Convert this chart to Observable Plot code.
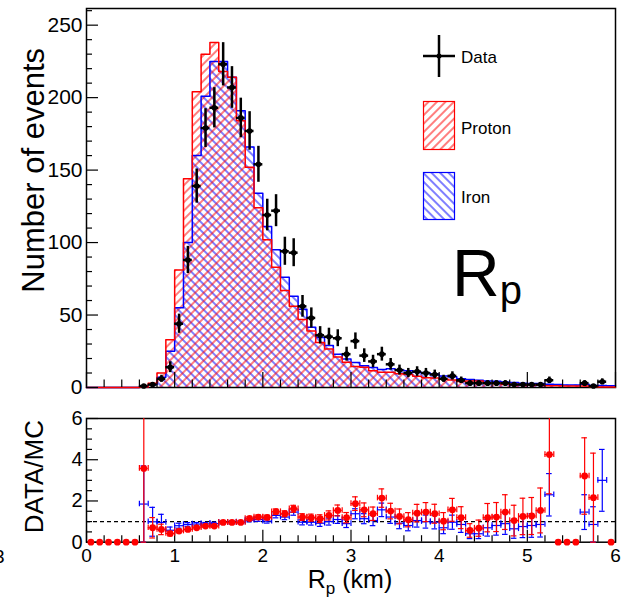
<!DOCTYPE html>
<html><head><meta charset="utf-8">
<script src="https://cdn.jsdelivr.net/npm/d3@7"></script>
<script src="https://cdn.jsdelivr.net/npm/@observablehq/plot@0.6"></script>
<style>
body{margin:0;background:#fff;}
#wrap{position:relative;width:621px;height:601px;overflow:hidden;background:#fff;font-family:"Liberation Sans",Arial,Helvetica,sans-serif;}
#top,#bot{position:absolute;left:0;}
#top{top:0px} #bot{top:395px}
#ov{position:absolute;left:0;top:0;pointer-events:none;}
</style></head><body>
<div id="wrap">
<div id="top"></div><div id="bot"></div>
<svg id="ov" width="621" height="601" font-family="Liberation Sans, Arial, Helvetica, sans-serif">
  <defs>
    <pattern id="hatchP" patternUnits="userSpaceOnUse" width="6" height="6" patternTransform="rotate(45)">
      <line x1="3" y1="-1" x2="3" y2="7" stroke="#ff0000" stroke-width="1"/>
    </pattern>
    <pattern id="hatchFe" patternUnits="userSpaceOnUse" width="6" height="6" patternTransform="rotate(-45)">
      <line x1="3" y1="-1" x2="3" y2="7" stroke="#0000ff" stroke-width="1"/>
    </pattern>
  </defs>
  <!-- legend -->
  <line x1="423" y1="56" x2="455" y2="56" stroke="#000" stroke-width="2.5"/>
  <line x1="439" y1="35" x2="439" y2="77" stroke="#000" stroke-width="2.5"/>
  <circle cx="439" cy="56" r="2.5" fill="#000"/>
  <text x="461" y="63" font-size="17">Data</text>
  <rect x="423.5" y="101.5" width="31" height="48" fill="url(#hatchP)" stroke="#ff0000" stroke-width="1.2"/>
  <text x="461" y="134" font-size="17">Proton</text>
  <rect x="423.5" y="172.5" width="31" height="47" fill="url(#hatchFe)" stroke="#0000ff" stroke-width="1.2"/>
  <text x="461" y="203" font-size="17">Iron</text>
  <!-- big label -->
  <text x="452" y="296" font-size="66">R<tspan font-size="40" dy="8">p</tspan></text>
  <!-- axis titles -->
  <text transform="translate(44,48) rotate(-90)" text-anchor="end" font-size="31">Number of events</text>
  <text transform="translate(43,420) rotate(-90)" text-anchor="end" font-size="26">DATA/MC</text>
  <text x="350" y="588" text-anchor="middle" font-size="25">R<tspan font-size="17" dy="6">p</tspan><tspan dy="-6"> (km)</tspan></text>
  <text x="-6" y="563" font-size="19">3</text>
</svg>
</div>
<script>
// ---- data (bins of 0.1 km from 0 to 6 km) ----
const BIN_WIDTH = 0.1;
const binEdges = d3.range(60).map(i => +(i * BIN_WIDTH).toFixed(1));

const dataCounts = [0,0,0,0,0,0, 1,2,6,14,
  44,88,139,179,193,223,207,186,177,154,
  119,122,94,93,56,48,36,35,34,23,
  32,22,18,23,16,12,10,11,10,9,
  6,8,5,3,3,3,3,3,2,2,
  2,2,5,0,0,0,3,1,4,0];

const protonMC = [0,0,0,0,0,0, 0.3,3,10,33,
  81,144,204,230,238,218,214,184,152,124,
  102,83,67,56,47,39,31,26.5,21,17.5,
  14.5,14,11.5,10.5,10.5,9.5,9,7.8,6.8,6.5,
  5.9,5.1,4.2,4.5,4.4,3,2.9,2.2,2.2,1.8,
  1.8,1.5,1.2,1.2,1.1,1,1.1,0.55,0.4,0.3];

const ironMC = [0,0,0,0,0,0, 0.5,2,7,25,
  55,100,160,201,225,225,214,191,166,134,
  111,95,76,63,54,41.5,34.5,29,23,19.6,
  17.3,15,13.8,12.5,13,12,11.5,10.5,10,9.3,
  8,7.5,6,5.5,5,4.5,4.3,3.8,3.5,3,
  2.8,2.7,2.2,2,1.8,1.8,2.2,1.4,1.3,1.2];

const ratioProton = [0,0,0,0,0,0, 3.58,0.7,0.62,0.42,
  0.54,0.62,0.7,0.78,0.78,0.96,0.96,0.96,1.15,1.22,
  1.2,1.48,1.38,1.62,1.22,1.19,1.14,1.3,1.54,1.19,
  1.87,1.57,1.38,2.14,1.51,1.25,1.09,1.41,1.46,1.38,
  1.02,1.57,1.19,0.57,0.68,1.19,1.22,1.46,1.05,1.25,
  1.27,1.54,4.25,0,0,0,3.21,2.16,null,0];

const ratioIron = [null,null,null,null,null,null, 1.85,0.99,0.96,0.58,
  0.8,0.86,0.88,0.89,0.9,0.96,0.96,0.98,1.07,1.1,
  1.02,1.3,1.22,1.46,0.97,0.97,0.92,1.0,1.1,0.9,
  1.38,1.14,1.05,1.57,1.22,0.92,0.81,1.05,1.0,0.97,
  0.7,0.97,0.86,0.41,0.41,0.7,0.81,0.9,0.65,0.76,
  0.81,0.86,2.3,null,null,null,1.46,0.86,3.0,null];

const yTicksTop = [0, 50, 100, 150, 200, 250];
const yTicksBot = [0, 2, 4, 6];
const xTicks = [0, 1, 2, 3, 4, 5, 6];

// ---- derived tables ----
const bins = binEdges.map((x0, i) => ({
  x0, x1: +(x0 + BIN_WIDTH).toFixed(1), xc: x0 + BIN_WIDTH / 2,
  n: dataCounts[i], p: protonMC[i], fe: ironMC[i], rp: ratioProton[i], rfe: ratioIron[i]
}));
const last = bins[bins.length - 1];
const steps = [...bins.map(b => ({x: b.x0, p: b.p, fe: b.fe})), {x: last.x1, p: last.p, fe: last.fe}];
const dataPts = bins.filter(b => b.n > 0).map(b => ({...b, e: Math.sqrt(b.n)}));
const rpPts = bins.filter(b => b.rp != null).map(b => ({...b, r: b.rp, e: b.n > 0 ? b.rp / Math.sqrt(b.n) : 0}));
const rfePts = bins.filter(b => b.rfe != null).map(b => ({...b, r: b.rfe, e: b.n > 0 ? b.rfe / Math.sqrt(b.n) : 0}));

const font = "Liberation Sans, Arial, Helvetica, sans-serif";
const minorX = d3.range(0, 31).map(i => +(i * 0.2).toFixed(1)).filter(v => !xTicks.includes(v));

// ---- top panel ----
const TOP = {w: 621, h: 395, ml: 86, mr: 6, mt: 8, mb: 8, ymax: 261.5};
const topPxY = (TOP.h - TOP.mt - TOP.mb) / TOP.ymax; // px per event
const pxX = (621 - 86 - 6) / 6; // px per km
const minorYTop = d3.range(0, 261, 10).filter(v => v % 50 !== 0);

const topPlot = Plot.plot({
  width: TOP.w, height: TOP.h,
  marginLeft: TOP.ml, marginRight: TOP.mr, marginTop: TOP.mt, marginBottom: TOP.mb,
  x: {domain: [0, 6], axis: null},
  y: {domain: [0, TOP.ymax], axis: null},
  style: {fontFamily: font, fontSize: "21px", color: "black", background: "transparent", overflow: "visible"},
  marks: [
    Plot.frame({stroke: "black", strokeWidth: 1.5}),
    Plot.areaY(steps, {x: "x", y: "fe", curve: "step-after", fill: "url(#hatchFe)"}),
    Plot.areaY(steps, {x: "x", y: "p", curve: "step-after", fill: "url(#hatchP)"}),
    Plot.lineY(steps, {x: "x", y: "fe", curve: "step-after", stroke: "#0000ff", strokeWidth: 1.5}),
    Plot.lineY(steps, {x: "x", y: "p", curve: "step-after", stroke: "#ff0000", strokeWidth: 1.5}),
    // axis ticks (inside the frame)
    Plot.ruleX(xTicks, {x: d => d, y1: 0, y2: 15 / topPxY, stroke: "black", strokeWidth: 1.2}),
    Plot.ruleX(minorX, {x: d => d, y1: 0, y2: 7.5 / topPxY, stroke: "black", strokeWidth: 1.2}),
    Plot.ruleY(yTicksTop, {y: d => d, x1: 0, x2: 12 / pxX, stroke: "black", strokeWidth: 1.2}),
    Plot.ruleY(minorYTop, {y: d => d, x1: 0, x2: 6 / pxX, stroke: "black", strokeWidth: 1.2}),
    Plot.text(yTicksTop, {y: d => d, frameAnchor: "left", text: d => String(d), textAnchor: "end", dx: -4, fontSize: 21}),
    // data with statistical errors
    Plot.ruleX(dataPts, {x: "xc", y1: d => d.n - d.e, y2: d => d.n + d.e, stroke: "black", strokeWidth: 2.5}),
    Plot.ruleY(dataPts, {y: "n", x1: "x0", x2: "x1", stroke: "black", strokeWidth: 2.5}),
    Plot.dot(dataPts, {x: "xc", y: "n", r: 2.8, fill: "black"})
  ]
});
document.getElementById("top").appendChild(topPlot);

// ---- ratio panel ----
const BOT = {w: 621, h: 206, ml: 86, mr: 6, mt: 23, mb: 59.3, ymax: 6};
const botPxY = (BOT.h - BOT.mt - BOT.mb) / BOT.ymax;
const minorYBot = d3.range(0, 6.01, 0.5).filter(v => v % 2 !== 0);
const capX = 2.8 / pxX, capY = 2.8 / botPxY;

function ratioMarks(pts, color, withDot) {
  const m = [
    Plot.ruleX(pts.filter(d => d.e > 0), {x: "xc", y1: d => Math.max(0, d.r - d.e), y2: d => d.r + d.e, stroke: color, strokeWidth: 1.2, clip: true}),
    Plot.ruleY(pts.filter(d => d.e > 0 && d.r + d.e <= 6), {y: d => d.r + d.e, x1: d => d.xc - capX, x2: d => d.xc + capX, stroke: color, strokeWidth: 1.2}),
    Plot.ruleY(pts.filter(d => d.e > 0 && d.r - d.e >= 0), {y: d => d.r - d.e, x1: d => d.xc - capX, x2: d => d.xc + capX, stroke: color, strokeWidth: 1.2}),
    Plot.ruleY(pts.filter(d => d.r > 0), {y: "r", x1: "x0", x2: "x1", stroke: color, strokeWidth: 1.2}),
    Plot.ruleX(pts.filter(d => d.r > 0), {x: "x0", y1: d => d.r - capY, y2: d => d.r + capY, stroke: color, strokeWidth: 1.2}),
    Plot.ruleX(pts.filter(d => d.r > 0), {x: "x1", y1: d => d.r - capY, y2: d => d.r + capY, stroke: color, strokeWidth: 1.2})
  ];
  if (withDot) m.push(Plot.dot(pts, {x: "xc", y: "r", r: 3.4, fill: color}));
  return m;
}

const botPlot = Plot.plot({
  width: BOT.w, height: BOT.h,
  marginLeft: BOT.ml, marginRight: BOT.mr, marginTop: BOT.mt, marginBottom: BOT.mb,
  x: {domain: [0, 6], axis: null},
  y: {domain: [0, BOT.ymax], axis: null},
  style: {fontFamily: font, fontSize: "19px", color: "black", background: "transparent", overflow: "visible"},
  marks: [
    Plot.frame({stroke: "black", strokeWidth: 1.5}),
    Plot.ruleY([1], {stroke: "black", strokeDasharray: "4,3", strokeWidth: 1.2}),
    Plot.ruleX(xTicks, {x: d => d, y1: 0, y2: 12 / botPxY, stroke: "black", strokeWidth: 1.2}),
    Plot.ruleX(minorX, {x: d => d, y1: 0, y2: 6.5 / botPxY, stroke: "black", strokeWidth: 1.2}),
    Plot.ruleY(yTicksBot, {y: d => d, x1: 0, x2: 12 / pxX, stroke: "black", strokeWidth: 1.2}),
    Plot.ruleY(minorYBot, {y: d => d, x1: 0, x2: 6 / pxX, stroke: "black", strokeWidth: 1.2}),
    Plot.text(yTicksBot, {y: d => d, frameAnchor: "left", text: d => String(d), textAnchor: "end", dx: -4, fontSize: 20}),
    Plot.text(xTicks, {x: d => d, frameAnchor: "bottom", lineAnchor: "top", text: d => String(d), dy: 6, fontSize: 19}),
    ...ratioMarks(rfePts, "#0000ff", false),
    ...ratioMarks(rpPts, "#ff0000", true)
  ]
});
document.getElementById("bot").appendChild(botPlot);
</script>
</body></html>
